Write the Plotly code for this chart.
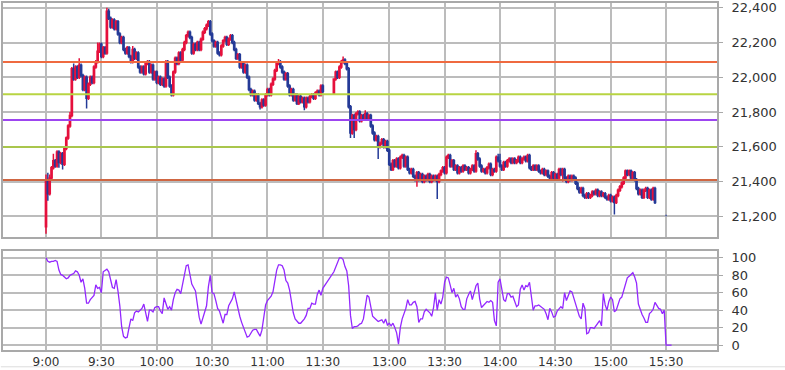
import plotly.graph_objects as go

# ---------------- data ----------------
# morning session 9:00-11:30 (1-minute candles)
am_open = [
    21140,21400,21330,21420,21480,21520,21490,21570,21510,21560,
    21500,21590,21650,21720,21780,22050,21990,22060,22000,22070,
    22010,21930,22000,21880,21960,22000,21970,22060,22090,22150,
    22190,22120,22170,22140,22380,22340,22290,22330,22280,22320,
    22250,22200,22230,22160,22140,22170,22120,22090,22160,22110,
    22140,22060,22030,22060,22020,22080,22090,22030,22070,21990,
    22030,21970,22000,21960,21990,21950,22090,22000,21950,21900,
    22030,22110,22080,22140,22100,22160,22200,22240,22260,22230,
    22140,22190,22160,22200,22160,22220,22260,22280,22300,22320,
    22250,22210,22180,22200,22140,22130,22180,22210,22230,22190,
    22220,22240,22200,22160,22110,22130,22060,22080,22030,22070,
    22000,21930,21900,21920,21870,21900,21850,21830,21870,21840,
    21900,21930,21900,21960,21990,22040,22080,22090,22060,22030,
    21990,22020,21950,21900,21930,21870,21900,21850,21890,21860,
    21880,21830,21880,21860,21890,21900,21880,21910,21920,21900,
    21950]
am_high = [
    21440,21450,21440,21490,21560,21530,21580,21580,21570,21570,
    21600,21660,21730,21800,22060,22080,22070,22070,22110,22080,
    22020,22010,22010,21970,22010,22010,22070,22100,22200,22200,
    22200,22180,22180,22400,22395,22350,22340,22340,22330,22330,
    22260,22240,22240,22170,22180,22180,22130,22180,22170,22150,
    22150,22070,22070,22070,22090,22100,22100,22080,22080,22040,
    22040,22010,22010,22000,22000,22100,22100,22010,21960,22040,
    22120,22120,22150,22150,22170,22210,22250,22270,22270,22240,
    22200,22200,22210,22210,22230,22270,22290,22310,22330,22330,
    22260,22220,22210,22210,22150,22190,22220,22240,22240,22230,
    22250,22250,22210,22170,22140,22140,22090,22090,22080,22080,
    22010,21940,21930,21930,21910,21910,21860,21880,21880,21910,
    21940,21940,21970,22000,22050,22090,22105,22100,22070,22040,
    22030,22030,21960,21940,21940,21910,21910,21900,21900,21890,
    21890,21890,21890,21900,21910,21910,21920,21930,21930,21960,
    21960]
am_low = [
    21100,21290,21320,21410,21470,21480,21480,21480,21500,21470,
    21490,21580,21640,21710,21770,21980,21980,21990,21990,22000,
    21920,21920,21820,21870,21950,21960,21960,22050,22080,22140,
    22110,22110,22130,22130,22330,22280,22280,22270,22270,22240,
    22190,22190,22150,22130,22130,22110,22080,22080,22100,22100,
    22050,22020,22020,22010,22010,22070,22020,22020,21980,21980,
    21960,21960,21950,21950,21940,21940,21990,21940,21890,21890,
    22020,22070,22070,22090,22090,22150,22190,22230,22220,22130,
    22130,22150,22150,22150,22150,22210,22250,22270,22290,22240,
    22200,22170,22170,22130,22120,22120,22170,22200,22180,22180,
    22210,22190,22150,22100,22100,22050,22050,22020,22020,21990,
    21920,21890,21890,21860,21860,21840,21815,21820,21830,21830,
    21890,21890,21890,21950,21980,22030,22070,22050,22020,21980,
    21980,21940,21890,21890,21860,21860,21840,21840,21850,21850,
    21810,21820,21850,21850,21880,21870,21870,21900,21890,21890,
    21910]
am_close = [
    21400,21330,21420,21480,21520,21490,21570,21510,21560,21500,
    21590,21650,21720,21780,22050,21990,22060,22000,22070,22010,
    21930,22000,21880,21960,22000,21970,22060,22090,22150,22190,
    22120,22170,22140,22380,22340,22290,22330,22280,22320,22250,
    22200,22230,22160,22140,22170,22120,22090,22160,22110,22140,
    22060,22030,22060,22020,22080,22090,22030,22070,21990,22030,
    21970,22000,21960,21990,21950,22090,22000,21950,21900,22030,
    22110,22080,22140,22100,22160,22200,22240,22260,22230,22140,
    22190,22160,22200,22160,22220,22260,22280,22300,22320,22250,
    22210,22180,22200,22140,22130,22180,22210,22230,22190,22220,
    22240,22200,22160,22110,22130,22060,22080,22030,22070,22000,
    21930,21900,21920,21870,21900,21850,21830,21870,21840,21900,
    21930,21900,21960,21990,22040,22080,22090,22060,22030,21990,
    22020,21950,21900,21930,21870,21900,21850,21890,21860,21880,
    21830,21880,21860,21890,21900,21880,21910,21920,21900,21950,
    21920]

# afternoon session 12:30-15:24 (1-minute candles)
pm_open = [
    21905,21990,22030,22000,22060,22090,22100,22080,22050,21830,
    21680,21780,21700,21790,21800,21750,21780,21760,21790,21760,
    21780,21720,21680,21640,21660,21600,21620,21640,21600,21630,
    21580,21500,21470,21520,21490,21530,21480,21540,21550,21490,
    21540,21470,21450,21470,21430,21420,21450,21410,21440,21400,
    21430,21410,21440,21400,21430,21410,21430,21400,21440,21460,
    21480,21450,21540,21550,21490,21520,21470,21490,21450,21480,
    21460,21490,21470,21480,21450,21470,21490,21460,21560,21530,
    21490,21460,21470,21450,21480,21500,21440,21470,21460,21540,
    21520,21490,21470,21510,21490,21520,21530,21510,21530,21510,
    21520,21540,21510,21530,21540,21520,21550,21480,21470,21490,
    21470,21490,21460,21450,21470,21440,21460,21430,21420,21450,
    21420,21440,21420,21470,21440,21470,21420,21400,21430,21410,
    21430,21420,21390,21360,21340,21360,21320,21310,21330,21310,
    21320,21340,21330,21350,21320,21340,21320,21330,21310,21300,
    21320,21290,21310,21280,21320,21350,21370,21390,21420,21460,
    21440,21460,21420,21450,21410,21360,21330,21350,21310,21350,
    21360,21310,21350,21300,21360]
pm_high = [
    21995,22040,22040,22070,22100,22120,22110,22090,22060,21840,
    21790,21790,21800,21810,21810,21790,21790,21810,21800,21790,
    21790,21730,21690,21670,21670,21630,21650,21650,21640,21640,
    21590,21510,21530,21530,21540,21540,21550,21560,21560,21550,
    21550,21480,21480,21480,21440,21460,21460,21450,21450,21440,
    21440,21450,21450,21440,21440,21440,21440,21450,21470,21490,
    21490,21550,21560,21560,21530,21530,21500,21500,21490,21490,
    21500,21500,21490,21490,21480,21500,21500,21580,21570,21540,
    21500,21480,21480,21490,21510,21510,21480,21480,21550,21560,
    21560,21500,21520,21520,21530,21540,21540,21540,21540,21530,
    21550,21550,21540,21550,21550,21560,21560,21490,21500,21500,
    21500,21500,21470,21480,21480,21470,21470,21440,21460,21460,
    21450,21450,21480,21480,21480,21480,21430,21440,21440,21440,
    21440,21430,21400,21370,21370,21370,21330,21340,21340,21330,
    21350,21350,21360,21360,21350,21350,21340,21340,21320,21330,
    21330,21320,21320,21330,21360,21380,21400,21430,21470,21470,
    21470,21470,21460,21460,21420,21370,21360,21360,21360,21370,
    21370,21360,21360,21370,21370]
pm_low = [
    21900,21980,21990,21990,22050,22080,22070,22040,21820,21650,
    21670,21650,21690,21780,21740,21740,21750,21750,21750,21750,
    21710,21670,21630,21630,21530,21590,21610,21590,21590,21570,
    21490,21460,21460,21480,21480,21470,21470,21530,21480,21480,
    21460,21440,21440,21420,21400,21370,21400,21400,21390,21390,
    21400,21400,21390,21390,21400,21400,21300,21390,21430,21450,
    21440,21440,21530,21480,21480,21460,21460,21440,21440,21450,
    21450,21460,21460,21440,21440,21460,21450,21450,21520,21480,
    21450,21450,21440,21440,21470,21430,21430,21450,21450,21510,
    21480,21460,21460,21480,21480,21510,21500,21500,21500,21500,
    21510,21500,21500,21520,21510,21510,21470,21460,21460,21460,
    21460,21450,21440,21440,21430,21430,21420,21410,21410,21410,
    21410,21410,21410,21430,21400,21410,21390,21390,21400,21400,
    21410,21380,21350,21330,21330,21310,21300,21300,21300,21300,
    21310,21320,21320,21310,21310,21310,21310,21300,21290,21290,
    21280,21280,21210,21270,21310,21340,21360,21380,21410,21430,
    21430,21410,21410,21400,21350,21320,21320,21300,21300,21340,
    21300,21300,21290,21290,21270]
pm_close = [
    21990,22030,22000,22060,22090,22100,22080,22050,21830,21680,
    21780,21700,21790,21800,21750,21780,21760,21790,21760,21780,
    21720,21680,21640,21660,21600,21620,21640,21600,21630,21580,
    21500,21470,21520,21490,21530,21480,21540,21550,21490,21540,
    21470,21450,21470,21430,21420,21450,21410,21440,21400,21430,
    21410,21440,21400,21430,21410,21430,21400,21440,21460,21480,
    21450,21540,21550,21490,21520,21470,21490,21450,21480,21460,
    21490,21470,21480,21450,21470,21490,21460,21560,21530,21490,
    21460,21470,21450,21480,21500,21440,21470,21460,21540,21520,
    21490,21470,21510,21490,21520,21530,21510,21530,21510,21520,
    21540,21510,21530,21540,21520,21550,21480,21470,21490,21470,
    21490,21460,21450,21470,21440,21460,21430,21420,21450,21420,
    21440,21420,21470,21440,21470,21420,21400,21430,21410,21430,
    21420,21390,21360,21340,21360,21320,21310,21330,21310,21320,
    21340,21330,21350,21320,21340,21320,21330,21310,21300,21320,
    21290,21310,21280,21320,21350,21370,21390,21420,21460,21440,
    21460,21420,21450,21410,21360,21330,21350,21310,21350,21360,
    21310,21350,21300,21360,21280]

# closing print at 15:30
close_time = "15:30"
close_price = 21205

# RSI values (morning 9:00-11:30, afternoon from 12:30)
rsi_am = [
    100,96,95,96,96,97,96,86,81,80,
    78,76,77,80,81,82,85,84,80,72,
    76,65,48,48,52,55,57,69,65,66,
    60,84,86,87,84,76,66,65,75,62,
    45,21,10,8,9,20,30,28,37,39,
    38,40,42,47,38,27,40,40,38,43,
    44,44,39,36,54,48,41,44,40,52,
    60,64,63,59,69,82,91,92,80,70,
    66,62,47,32,24,32,39,45,67,80,
    60,59,51,42,39,32,25,35,35,45,
    49,53,61,51,40,33,26,20,14,9,
    10,13,17,18,18,14,10,17,31,46,
    51,53,56,61,72,86,92,92,91,86,
    74,71,63,48,37,30,28,25,25,27,
    30,34,42,42,48,47,47,58,63,57,
    65]
rsi_pm = [
    84,89,95,100,100,98,90,85,68,34,
    19,21,21,22,24,25,30,45,57,55,
    44,33,31,29,27,28,29,25,30,23,
    25,22,25,20,14,1,20,30,35,42,
    52,46,46,49,50,44,26,30,30,38,
    41,39,37,33,43,60,40,52,47,55,
    72,78,77,69,60,65,55,58,53,44,
    41,41,53,58,62,52,61,68,71,53,
    43,45,47,50,49,51,49,28,22,72,
    76,65,52,50,59,59,55,56,50,44,
    46,64,69,63,68,67,72,56,40,45,
    45,46,44,43,41,36,29,42,38,32,
    33,39,42,44,42,60,51,56,62,61,
    53,46,40,33,30,48,42,13,14,20,
    20,19,22,25,28,22,59,46,40,50,
    55,52,38,40,48,53,55,62,71,77,
    79,81,83,78,71,47,40,35,31,26,
    26,36,38,41,49,45,42,41,36,40,
    0,0,0,0]

# reference price levels drawn across the price panel
level_values = [22088, 21903, 21755, 21599, 21409]
level_colors = ["#ef6a40", "#b8d443", "#9d45f0", "#a9c64c", "#cf6642"]

x_tick_labels = ["9:00", "9:30", "10:00", "10:30", "11:00", "11:30",
                 "13:00", "13:30", "14:00", "14:30", "15:00", "15:30"]
price_ticks = [21200, 21400, 21600, 21800, 22000, 22200, 22400]
rsi_ticks = [0, 20, 40, 60, 80, 100]


# ---------------- time helpers ----------------
def hhmm(total_minutes):
    return f"{total_minutes // 60}:{total_minutes % 60:02d}"


def slot(t):
    h, m = map(int, t.split(":"))
    mins = h * 60 + m - 540
    return mins if mins <= 150 else mins - 54   # lunch break collapsed


am_times = [hhmm(540 + k) for k in range(len(am_close))]
pm_times = [hhmm(750 + k) for k in range(len(pm_close))]
candle_times = am_times + pm_times + [close_time]
rsi_times = [hhmm(540 + k) for k in range(len(rsi_am))] + \
            [hhmm(750 + k) for k in range(len(rsi_pm))]

cx = [slot(t) for t in candle_times]
rx = [slot(t) for t in rsi_times]

opens = am_open + pm_open + [close_price]
highs = am_high + pm_high + [close_price]
lows = am_low + pm_low + [close_price]
closes = am_close + pm_close + [close_price]
rsi = rsi_am + rsi_pm

# ---------------- figure ----------------
UP = "#e5103c"
DOWN = "#243a97"
GRID = "#bcbcbc"
FRAME = "#a9a9a9"
FONT = dict(family="DejaVu Sans, Verdana, sans-serif", size=12, color="#333333")

fig = go.Figure()
fig.add_trace(go.Candlestick(
    x=cx, open=opens, high=highs, low=lows, close=closes,
    increasing=dict(line=dict(color=UP, width=1.5), fillcolor=UP),
    decreasing=dict(line=dict(color=DOWN, width=1.5), fillcolor=DOWN),
    whiskerwidth=0, xaxis="x", yaxis="y", hoverinfo="skip",
))
fig.add_trace(go.Scatter(
    x=rx, y=rsi, mode="lines", line=dict(color="#9428ff", width=1.3),
    xaxis="x2", yaxis="y2", hoverinfo="skip",
))

for v, c in zip(level_values, level_colors):
    fig.add_shape(type="line", xref="paper", yref="y", x0=0, x1=1, y0=v, y1=v,
                  line=dict(color=c, width=2), layer="above")

# faint bottom border of the widget
fig.add_shape(type="line", xref="paper", yref="paper", x0=-0.003, x1=1.1,
              y0=-0.0484, y1=-0.0484, line=dict(color="#dcdcdc", width=1))

tickvals_x = [slot(t) for t in x_tick_labels]
xcommon = dict(range=[-23.3, 363.6], tickvals=tickvals_x, ticktext=x_tick_labels,
               showgrid=True, gridcolor=GRID, gridwidth=1.6, zeroline=False,
               showline=True, mirror=True, linecolor=FRAME, linewidth=1.6,
               ticks="", tickfont=FONT)

fig.update_layout(
    width=785, height=370,
    margin=dict(l=2, r=68, t=1, b=18),
    paper_bgcolor="white", plot_bgcolor="white",
    showlegend=False, boxgap=0.05,
    xaxis=dict(**xcommon, showticklabels=False, anchor="y",
               rangeslider=dict(visible=False)),
    xaxis2=dict(**xcommon, showticklabels=True, anchor="y2", matches="x"),
    yaxis=dict(domain=[0.3248, 1.0], range=[21079, 22428], side="right",
               tickvals=price_ticks, tickformat=",d", showgrid=True,
               gridcolor=GRID, gridwidth=1.6, zeroline=False, showline=True,
               mirror=True, linecolor=FRAME, linewidth=1.6, ticks="outside",
               ticklen=4, tickcolor=FRAME, tickfont=dict(FONT, size=13),
               ticklabelstandoff=6, anchor="x"),
    yaxis2=dict(domain=[0.0, 0.2849], range=[-5.7, 107.7], side="right",
                tickvals=rsi_ticks, showgrid=True, gridcolor=GRID, gridwidth=1.6,
                zeroline=False, showline=True, mirror=True, linecolor=FRAME,
                linewidth=1.6, ticks="outside", ticklen=4, tickcolor=FRAME,
                tickfont=dict(FONT, size=13), ticklabelstandoff=6, anchor="x2"),
)

fig.write_html("out.html")
